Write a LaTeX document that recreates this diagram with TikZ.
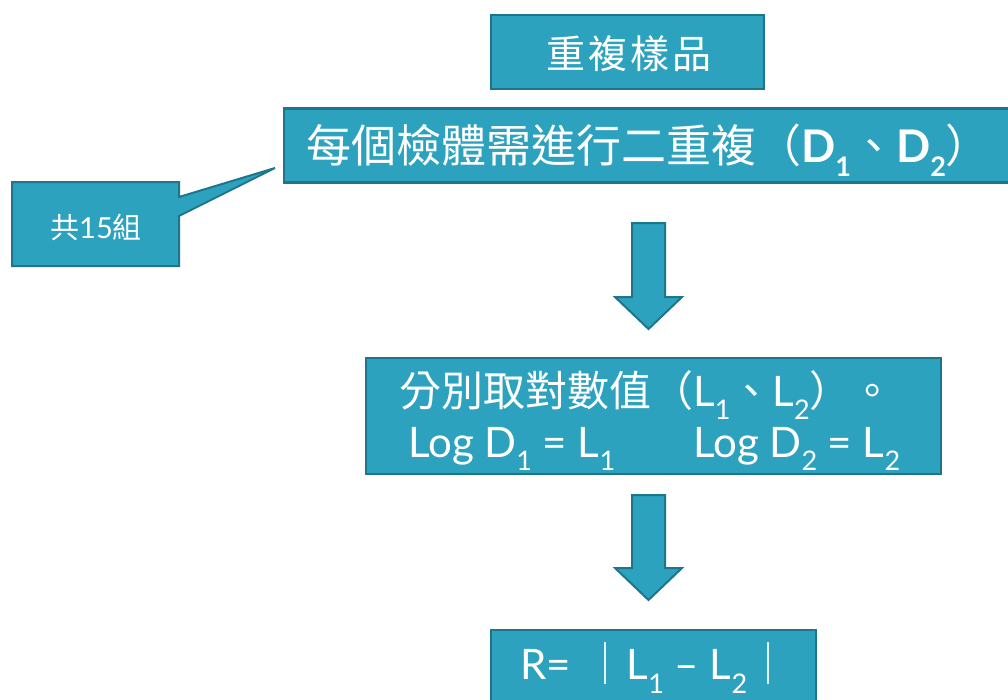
\documentclass[tikz,border=0pt]{standalone}
\usepackage{fontspec}
\setmainfont{Lato}
\newfontfamily\cjk{Noto Sans CJK TC}
\definecolor{boxfill}{RGB}{44,162,191}
\definecolor{boxline}{RGB}{30,118,140}
\newcommand{\sbs}[1]{\raisebox{-0.32em}{\fontsize{27}{29}\selectfont #1}}
\begin{document}
\begin{tikzpicture}[x=1pt,y=-1pt,
  flowbox/.style={draw=boxline,fill=boxfill,line width=2.2pt,text=white,inner sep=0pt,align=center},
  blockarrow/.style={draw=boxline,fill=boxfill,line width=2pt,line join=miter}]
\clip (0,0) rectangle (1008,699);
\fill[white] (0,0) rectangle (1008,699);
% boxes
\node[flowbox,minimum width=273pt,minimum height=74pt] (b1) at (627.5,52) {};
\node[text=white,inner sep=0pt] (t1) at (629,54)
  {\fontsize{39}{42}\selectfont\cjk\addfontfeature{LetterSpace=7}重複樣品};
\node[flowbox,minimum width=735pt,minimum height=74pt,anchor=west] (b2) at (283,145.5) {};
\node[text=white,anchor=west,inner sep=0pt] (t2) at (306,150)
  {\fontsize{45}{48}\selectfont\cjk 每個檢體需進行二重複（{\fontspec{Lato}\bfseries D\sbs{1}}、{\fontspec{Lato}\bfseries D\sbs{2}}）};
\node[flowbox,minimum width=575pt,minimum height=116pt] (b3) at (653.5,416) {};
\node[text=white,anchor=west,inner sep=0pt] (t3a) at (399,395)
  {\fontsize{42}{44}\selectfont\cjk 分別取對數值（{\fontspec{Lato}L\sbs{1}}、{\fontspec{Lato}L\sbs{2}}）。};
\node[text=white,anchor=west,inner sep=0pt] (t3b) at (408,449)
  {\fontsize{42}{44}\selectfont Log D\sbs{1} = L\sbs{1}\hspace{78pt}Log D\sbs{2} = L\sbs{2}};
\node[flowbox,minimum width=325pt,minimum height=90pt] (b4) at (653.5,675) {};
\node[text=white,anchor=west,inner sep=0pt] (t4) at (520,668)
  {\fontsize{42}{44}\selectfont R=\hspace{14pt}{\cjk｜}L\sbs{1} – L\sbs{2}{\cjk｜}};
% callout
\draw[blockarrow] (12,182) -- (179,182) -- (179,197) -- (275,168) -- (179,216) -- (179,266) -- (12,266) -- cycle;
\node[text=white,inner sep=0pt] (c1) at (96,227)
  {\fontsize{29}{31}\selectfont{\cjk 共}15{\cjk 組}};
% arrows
\draw[blockarrow] (632,223) -- (665,223) -- (665,297) -- (682,297) -- (648.5,329) -- (615,297) -- (632,297) -- cycle;
\draw[blockarrow] (632,495) -- (665,495) -- (665,568) -- (682,568) -- (648.5,600) -- (615,568) -- (632,568) -- cycle;
\end{tikzpicture}
\end{document}
